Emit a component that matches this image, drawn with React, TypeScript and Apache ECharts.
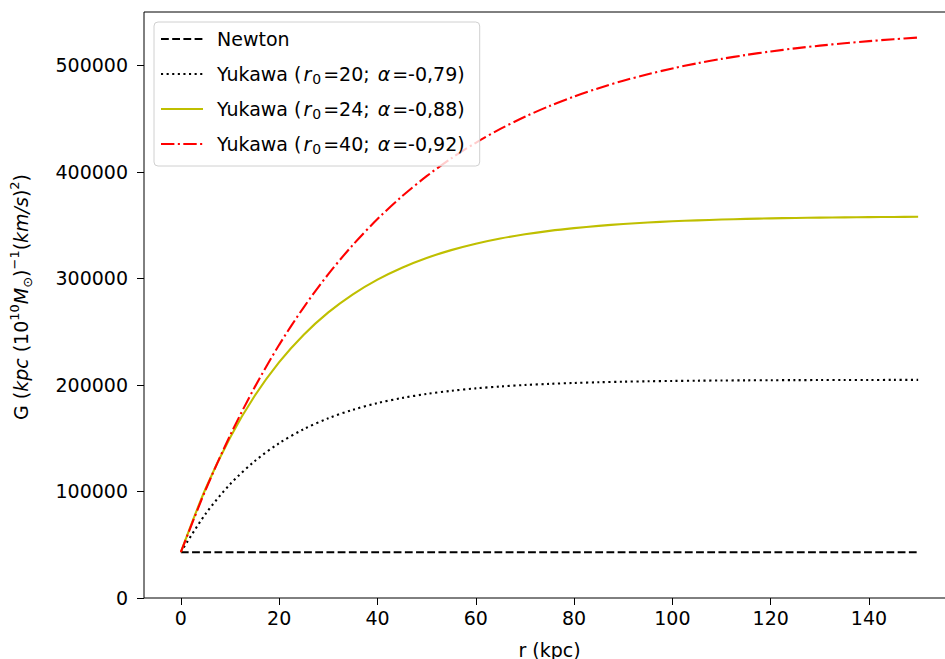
import React, { useEffect, useRef } from "react";
import * as echarts from "echarts";

// r in kpc
const rValues = [0, 5, 10, 15, 20, 25, 30, 35, 40, 45, 50, 55, 60, 65, 70, 75, 80, 85, 90, 95, 100, 105, 110, 115, 120, 125, 130, 135, 140, 145, 150];

const newtonR = [0, 150];
const newtonG = [43009, 43009];

const yukawa20 = [43009, 78789, 106683, 128372, 145289, 158458, 168698, 176685, 182912, 187745, 191513, 194462, 196756, 198517, 199910, 200995, 201836, 202491, 203003, 203406, 203715, 203955, 204143, 204291, 204404, 204494, 204561, 204617, 204658, 204690, 204715];
const yukawa24 = [43009, 102326, 150496, 189562, 221353, 247122, 268053, 285042, 298841, 310023, 319127, 326510, 332531, 337405, 341348, 344573, 347154, 349268, 350989, 352387, 353534, 354430, 355182, 355792, 356283, 356684, 357007, 357268, 357483, 357659, 357799];
const yukawa40 = [43009, 101125, 152413, 197680, 237625, 272838, 303966, 331438, 355630, 377027, 395898, 412563, 427240, 440251, 451648, 461755, 470679, 478529, 485464, 491593, 497022, 501807, 506000, 509710, 512989, 515893, 518419, 520677, 522666, 524440, 526000];

const xTicks = [0, 20, 40, 60, 80, 100, 120, 140];
const yTicks = [0, 100000, 200000, 300000, 400000, 500000];

const seriesNames = ["Newton", "Yukawa (r0=20; α=-0,79)", "Yukawa (r0=24; α=-0,88)", "Yukawa (r0=40; α=-0,92)"];
const legendRich = [
  "{n|Newton}",
  "{n|Yukawa (}{i|r}{s|0}{n|=20; }{a|α}{n|=-0,79)}",
  "{n|Yukawa (}{i|r}{s|0}{n|=24; }{a|α}{n|=-0,88)}",
  "{n|Yukawa (}{i|r}{s|0}{n|=40; }{a|α}{n|=-0,92)}",
];

const FONT = "DejaVu Sans";
const FS = 19;

function pairs(xs: number[], ys: number[]) {
  return xs.map((x, i) => [x, ys[i]]);
}

export default function App() {
  const ref = useRef<HTMLDivElement>(null);
  useEffect(() => {
    if (!ref.current) return;
    const chart = echarts.init(ref.current, undefined, { renderer: "svg" });
    const richBase = {
      n: { fontFamily: FONT, fontSize: FS, color: "#000", lineHeight: 24 },
      i: { fontFamily: FONT, fontSize: FS, fontStyle: "italic", color: "#000", lineHeight: 24, padding: [0, 0, 0, 2] },
      a: { fontFamily: FONT, fontSize: FS, fontStyle: "italic", color: "#000", lineHeight: 24, padding: [0, 2, 0, 2] },
      s: { fontFamily: FONT, fontSize: 14, color: "#000", verticalAlign: "bottom", lineHeight: 24, padding: [0, 2, 0, 1] },
    };
    chart.setOption({
      animation: false,
      backgroundColor: "#fff",
      grid: {
        left: 144,
        right: -10,
        top: 12,
        bottom: 61,
        outerBoundsMode: "none",
        containLabel: false,
        show: true,
        borderColor: "#000",
        borderWidth: 1,
        backgroundColor: "transparent",
      },
      xAxis: {
        type: "value",
        min: -7.5,
        max: 157.5,
        name: "r (kpc)",
        nameLocation: "middle",
        nameGap: 42,
        nameTextStyle: { fontFamily: FONT, fontSize: FS, color: "#000" },
        axisLine: { show: false, onZero: false },
        axisTick: { show: true, length: 7, customValues: xTicks, lineStyle: { color: "#000" } },
        axisLabel: { customValues: xTicks, margin: 10, fontFamily: FONT, fontSize: FS, color: "#000", formatter: (v: number) => String(v) },
        splitLine: { show: false },
      },
      yAxis: {
        type: "value",
        min: 0,
        max: 550000,
        name: "{n|G (}{i|kpc}{n| (10}{p|10}{i|M}{s|⊙}{n|)}{p|−1}{n|(}{i|km/s}{n|)}{p|2}{n|)}",
        nameLocation: "middle",
        nameRotate: 90,
        nameGap: 110,
        nameTextStyle: {
          padding: [0, 0, 0, 16],
          rich: {
            n: { fontFamily: FONT, fontSize: FS, color: "#000", lineHeight: 26 },
            i: { fontFamily: FONT, fontSize: FS, fontStyle: "italic", color: "#000", lineHeight: 26 },
            p: { fontFamily: FONT, fontSize: 13, color: "#000", verticalAlign: "top", lineHeight: 26 },
            s: { fontFamily: FONT, fontSize: 13, color: "#000", verticalAlign: "bottom", lineHeight: 26 },
          },
        },
        axisLine: { show: false, onZero: false },
        axisTick: { show: true, length: 7, customValues: yTicks, lineStyle: { color: "#000" } },
        axisLabel: { customValues: yTicks, margin: 16, fontFamily: FONT, fontSize: FS, color: "#000", formatter: (v: number) => String(v) },
        splitLine: { show: false },
      },
      legend: {
        orient: "vertical",
        left: 154,
        top: 22,
        padding: [5, 15, 10, 6],
        itemWidth: 42,
        itemHeight: 14,
        itemGap: 11,
        backgroundColor: "rgba(255,255,255,0.8)",
        borderColor: "#d0d0d0",
        borderWidth: 1,
        borderRadius: 4,
        itemStyle: { opacity: 0 },
        data: seriesNames,
        formatter: (name: string) => legendRich[seriesNames.indexOf(name)],
        textStyle: { padding: [0, 0, 0, 9], lineHeight: 24, rich: richBase },
      },
      series: [
        {
          name: seriesNames[0],
          type: "line",
          data: pairs(newtonR, newtonG),
          symbol: "none",
          lineStyle: { color: "#000", width: 2.1, type: [7.8, 3.4] },
          itemStyle: { color: "#000" },
        },
        {
          name: seriesNames[1],
          type: "line",
          data: pairs(rValues, yukawa20),
          symbol: "none",
          smooth: 0.3,
          lineStyle: { color: "#000", width: 2.1, type: [2.1, 3.5] },
          itemStyle: { color: "#000" },
        },
        {
          name: seriesNames[2],
          type: "line",
          data: pairs(rValues, yukawa24),
          symbol: "none",
          smooth: 0.3,
          lineStyle: { color: "#bfbf00", width: 2.1, type: "solid" },
          itemStyle: { color: "#bfbf00" },
        },
        {
          name: seriesNames[3],
          type: "line",
          data: pairs(rValues, yukawa40),
          symbol: "none",
          smooth: 0.3,
          lineStyle: { color: "#ff0000", width: 2.1, type: [13.4, 3.4, 2.1, 3.4] },
          itemStyle: { color: "#ff0000" },
        },
      ],
    });
    return () => chart.dispose();
  }, []);
  return <div ref={ref} style={{ width: 945, height: 659, position: "absolute", left: 0, top: 0 }} />;
}
